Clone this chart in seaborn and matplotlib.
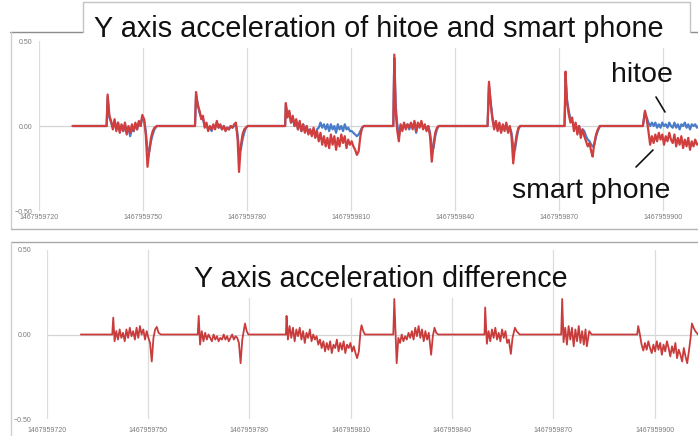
import pandas as pd
import matplotlib.pyplot as plt
import seaborn as sns
from matplotlib.lines import Line2D
from matplotlib.patches import Rectangle
from matplotlib.ticker import StrMethodFormatter

# unix time of the first x tick, all times below are seconds after it
t0 = 1467959720

top_time = [
    9.7,
    19.5, 19.8, 20.3, 20.8, 21.3, 21.8, 22.3, 22.8, 23.3, 23.8,
    24.3, 24.8, 25.3, 25.8, 26.3, 26.8, 27.3, 27.8, 28.3, 28.8,
    29.3, 29.8, 30.3, 30.8, 31.3, 31.8, 32.3, 32.8, 33.3, 34.0,
    45.0, 45.3, 45.8, 46.3, 46.8, 47.3, 47.8, 48.3, 48.8, 49.3,
    49.8, 50.3, 50.8, 51.3, 51.8, 52.3, 52.8, 53.3, 53.8, 54.3,
    54.8, 55.3, 55.8, 56.3, 56.8, 57.3, 57.7, 58.2, 58.7, 59.2,
    59.7, 60.2,
    71.0, 71.2, 71.7, 72.2, 72.7, 73.2, 73.7, 74.2, 74.7, 75.2,
    75.7, 76.2, 76.7, 77.2, 77.7, 78.2, 78.7, 79.2, 79.7, 80.2,
    80.7, 81.2, 81.7, 82.2, 82.7, 83.2, 83.7, 84.2, 84.7, 85.2,
    85.7, 86.2, 86.7, 87.2, 87.7, 88.2, 88.7, 89.2, 89.7, 90.2,
    90.7, 91.2, 91.7, 92.2, 92.7, 93.2, 93.7,
    102.2, 102.5, 102.9, 103.3, 103.8, 104.3, 104.8, 105.3, 105.8, 106.3,
    106.8, 107.3, 107.8, 108.3, 108.8, 109.3, 109.8, 110.3, 110.8, 111.3,
    111.8, 112.3, 112.8, 113.3, 113.8, 114.3, 114.8, 115.3,
    129.4, 129.8, 130.3, 130.8, 131.3, 131.8, 132.3, 132.8, 133.3, 133.8,
    134.3, 134.8, 135.3, 135.8, 136.3, 136.8, 137.3, 137.8, 138.3, 138.8,
    151.6, 151.9, 152.3, 152.8, 153.3, 153.8, 154.3, 154.8, 155.3, 155.8,
    156.3, 156.8, 157.3, 157.8, 158.3, 158.8, 159.3, 159.7, 160.2, 160.7,
    161.2, 161.8,
    174.2, 174.8, 175.3, 175.8, 176.3, 176.8, 177.3, 177.8, 178.3, 178.8,
    179.3, 179.8, 180.3, 180.8, 181.3, 181.8, 182.3, 182.8, 183.3, 183.8,
    184.3, 184.8, 185.3, 185.8, 186.3, 186.8, 187.3, 187.8, 188.3, 188.8,
    189.3, 189.8, 190.3,
]

hitoe = [
    0,
    0, 0.17, 0.05, 0.02, -0.01, 0.03, -0.02, 0.02, -0.03, 0.0,
    -0.03, 0.01, -0.04, -0.01, -0.06, -0.02, -0.03, 0.01, -0.02, 0.02,
    0.0, 0.05, 0.04, -0.03, -0.14, -0.15, -0.09, -0.05, -0.02, 0,
    0, 0.18, 0.13, 0.08, 0.05, 0.04, 0.0, 0.01, -0.02, -0.01,
    -0.03, 0.0, -0.01, 0.02, -0.01, 0.0, -0.02, 0.0, -0.02, -0.01,
    -0.02, 0.0, -0.01, 0.0, 0.01, -0.05, -0.15, -0.14, -0.08, -0.04,
    -0.01, 0,
    0, 0.12, 0.06, 0.08, 0.02, 0.05, 0.0, 0.03, -0.02, 0.02,
    -0.03, 0.01, -0.03, 0.0, -0.04, -0.02, -0.05, -0.02, -0.06, -0.02,
    -0.01, 0.02, -0.01, 0.01, -0.02, 0.01, -0.03, 0.01, -0.02, 0.0,
    -0.04, 0.01, -0.02, 0.0, -0.03, 0.01, -0.02, -0.01, -0.03, -0.03,
    -0.04, -0.05, -0.06, -0.05, -0.03, -0.01, 0,
    0, 0.40, 0.12, 0.02, -0.06, 0.0, -0.02, 0.01, -0.01, 0.01,
    -0.02, 0.01, -0.01, 0.02, -0.04, 0.01, 0.0, 0.02, -0.01, 0.0,
    -0.02, 0.0, -0.04, -0.12, -0.13, -0.06, -0.02, 0,
    0, 0.24, 0.14, 0.05, 0.0, 0.02, -0.02, 0.01, -0.03, 0.0,
    -0.02, 0.01, -0.03, -0.01, -0.04, -0.12, -0.14, -0.07, -0.02, 0,
    0, 0.28, 0.16, 0.09, 0.04, 0.03, 0.0, 0.01, -0.02, 0.0,
    -0.04, -0.02, -0.03, -0.06, -0.08, -0.09, -0.11, -0.12, -0.11, -0.06,
    -0.03, 0,
    0, 0.08, 0.05, 0.02, 0.0, 0.02, 0.0, 0.02, -0.01, 0.01,
    -0.01, 0.02, 0.0, 0.01, -0.01, 0.02, 0.0, -0.01, 0.02, -0.01,
    0.01, -0.02, 0.01, 0.0, 0.02, -0.01, 0.01, -0.02, 0.01, 0.0,
    0.01, -0.01, 0.0,
]

smart_phone = [
    0,
    0, 0.185, 0.06, 0.03, -0.02, 0.04, -0.03, 0.02, -0.04, 0.01,
    -0.03, 0.02, -0.05, 0.0, -0.04, 0.01, -0.03, 0.02, -0.02, 0.03,
    0.0, 0.065, 0.04, -0.05, -0.24, -0.15, -0.07, -0.03, -0.01, 0,
    0, 0.20, 0.12, 0.09, 0.04, 0.06, -0.01, 0.02, -0.03, 0.0,
    -0.02, 0.01, -0.02, 0.03, -0.01, 0.01, -0.02, 0.0, -0.03, -0.01,
    -0.02, 0.0, -0.01, 0.01, 0.02, -0.08, -0.27, -0.12, -0.05, -0.02,
    -0.01, 0,
    0, 0.135, 0.05, 0.09, 0.02, 0.06, 0.0, 0.04, -0.02, 0.03,
    -0.03, 0.01, -0.04, 0.0, -0.05, -0.02, -0.06, -0.01, -0.07, -0.03,
    -0.09, -0.04, -0.11, -0.06, -0.12, -0.07, -0.13, -0.05, -0.11, -0.06,
    -0.14, -0.07, -0.12, -0.05, -0.10, -0.06, -0.13, -0.08, -0.11, -0.09,
    -0.12, -0.14, -0.17, -0.15, -0.06, -0.01, 0,
    0, 0.42, 0.08, -0.02, -0.09, 0.01, -0.03, 0.02, -0.02, 0.01,
    -0.01, 0.02, -0.02, 0.03, -0.03, 0.02, -0.01, 0.03, -0.02, 0.01,
    -0.03, 0.0, -0.06, -0.21, -0.11, -0.04, -0.01, 0,
    0, 0.26, 0.13, 0.04, -0.02, 0.03, -0.03, 0.02, -0.04, 0.01,
    -0.03, 0.02, -0.04, 0.0, -0.06, -0.22, -0.12, -0.05, -0.01, 0,
    0, 0.32, 0.14, 0.07, 0.02, 0.05, -0.03, 0.02, -0.05, 0.0,
    -0.07, -0.02, -0.06, -0.09, -0.12, -0.10, -0.15, -0.18, -0.10, -0.05,
    -0.02, 0,
    0, 0.09, 0.04, -0.03, -0.11, -0.06, -0.10, -0.05, -0.09, -0.04,
    -0.08, -0.05, -0.11, -0.06, -0.09, -0.04, -0.08, -0.10, -0.05, -0.12,
    -0.07, -0.11, -0.06, -0.13, -0.08, -0.12, -0.07, -0.14, -0.09, -0.12,
    -0.08, -0.11, -0.10,
]

diff_time = [
    10.1,
    19.4, 19.7, 20.1, 20.6, 21.1, 21.6, 22.1, 22.6, 23.1, 23.6,
    24.1, 24.6, 25.1, 25.6, 26.1, 26.6, 27.1, 27.6, 28.1, 28.6,
    29.1, 29.6, 30.1, 30.6, 31.1, 31.6, 32.1, 32.6, 33.1, 33.8,
    44.7, 45.0, 45.4, 45.9, 46.4, 46.9, 47.4, 47.9, 48.4, 48.9,
    49.4, 49.9, 50.4, 50.9, 51.4, 51.9, 52.4, 52.9, 53.4, 53.9,
    54.4, 54.9, 55.4, 55.9, 56.4, 56.9, 57.4, 57.9, 58.4, 58.7,
    59.2, 59.7,
    70.8, 71.0, 71.4, 71.9, 72.4, 72.9, 73.4, 73.9, 74.4, 74.9,
    75.4, 75.9, 76.4, 76.9, 77.4, 77.9, 78.4, 78.9, 79.4, 79.9,
    80.4, 80.9, 81.4, 81.9, 82.4, 82.9, 83.4, 83.9, 84.4, 84.9,
    85.4, 85.9, 86.4, 86.9, 87.4, 87.9, 88.4, 88.9, 89.4, 89.9,
    90.4, 90.9, 91.4, 91.9, 92.4, 92.9, 93.2, 93.7, 94.2,
    102.6, 102.9, 103.6, 104.1, 104.6, 105.1, 105.6, 106.1, 106.6, 107.1,
    107.6, 108.1, 108.6, 109.1, 109.6, 110.1, 110.6, 111.1, 111.6, 112.1,
    112.6, 113.1, 113.8, 114.3, 114.8, 115.3, 115.9,
    129.6, 129.8, 130.3, 130.8, 131.3, 131.8, 132.3, 132.8, 133.3, 133.8,
    134.3, 134.8, 135.3, 135.8, 136.3, 136.8, 137.4, 137.9, 138.6, 139.1,
    140.0,
    152.3, 152.6, 153.0, 153.5, 154.0, 154.5, 155.0, 155.5, 156.0, 156.5,
    157.0, 157.5, 158.0, 158.5, 159.0, 159.5, 159.9, 160.3, 160.6, 161.3,
    174.8, 175.1, 175.6, 176.1, 176.6, 177.1, 177.6, 178.1, 178.6, 179.1,
    179.6, 180.1, 180.6, 181.1, 181.6, 182.1, 182.6, 183.1, 183.6, 184.1,
    184.6, 185.1, 185.6, 186.1, 186.6, 187.1, 187.6, 188.1, 188.6, 189.1,
    189.6, 190.1, 190.6, 191.0, 191.5, 192.0, 192.8,
]

difference = [
    0,
    0, 0.10, -0.04, 0.02, -0.03, 0.03, -0.02, 0.01, -0.04, 0.03,
    -0.02, 0.04, -0.01, 0.02, -0.03, 0.04, -0.02, 0.05, 0.0, 0.03,
    -0.03, 0.02, -0.02, -0.05, -0.16, -0.02, 0.03, 0.045, 0.01, 0,
    0, 0.11, -0.06, 0.02, -0.04, 0.01, -0.03, 0.0, -0.02, -0.04,
    0.0, -0.03, -0.01, -0.04, -0.02, -0.03, 0.0, -0.03, -0.01, -0.04,
    -0.02, 0.0, -0.03, -0.01, -0.02, -0.05, -0.17, -0.03, 0.03, 0.065,
    0.02, 0,
    0, 0.11, -0.03, 0.05, -0.02, 0.04, -0.04, 0.03, -0.01, 0.04,
    -0.03, 0.02, -0.05, 0.01, -0.02, 0.03, -0.04, 0.0, -0.03, -0.01,
    -0.06, -0.03, -0.08, -0.04, -0.10, -0.05, -0.09, -0.04, -0.11, -0.06,
    -0.08, -0.03, -0.10, -0.05, -0.09, -0.04, -0.11, -0.06, -0.08, -0.05,
    -0.10, -0.07, -0.11, -0.14, -0.10, 0.02, 0.055, 0.02, 0,
    0, 0.21, -0.17, -0.02, -0.05, 0.0, -0.04, -0.01, -0.03, 0.01,
    -0.02, 0.02, -0.03, 0.04, -0.01, 0.05, -0.02, 0.03, -0.04, 0.02,
    -0.03, 0.01, -0.12, -0.01, 0.04, 0.01, 0,
    0, 0.16, -0.055, 0.02, -0.04, 0.03, -0.02, 0.04, -0.03, 0.01,
    -0.04, 0.03, -0.02, 0.02, -0.05, -0.03, -0.115, -0.02, 0.04, 0.02,
    0,
    0, 0.21, -0.045, 0.04, -0.06, 0.05, -0.03, 0.04, -0.07, 0.03,
    -0.04, 0.05, -0.05, 0.02, -0.06, 0.03, -0.07, -0.02, 0.02, 0,
    0, 0.05, 0.0, -0.06, -0.095, -0.05, -0.09, -0.04, -0.08, -0.11,
    -0.06, -0.10, -0.04, -0.09, -0.05, -0.12, -0.06, -0.10, -0.04, -0.08,
    -0.13, -0.07, -0.11, -0.05, -0.14, -0.09, -0.12, -0.16, -0.08, -0.13,
    -0.17, -0.10, -0.02, 0.065, 0.04, 0.02, 0,
]

x_ticks = [0, 30, 60, 90, 120, 150, 180]
y_ticks = [-0.5, 0.0, 0.5]

top_df = pd.DataFrame({"time": top_time, "hitoe": hitoe, "smart phone": smart_phone})
top_df["timestamp"] = t0 + top_df["time"]
top_long = top_df.melt(id_vars=["timestamp"], value_vars=["hitoe", "smart phone"],
                       var_name="sensor", value_name="accel")
diff_df = pd.DataFrame({"timestamp": [t0 + t for t in diff_time], "accel": difference})

sns.set_style("white")
plt.rcParams["font.family"] = ["Liberation Sans", "DejaVu Sans"]

W, H = 698, 436


def fx(px):
    return px / W


def fy(py):
    return 1 - py / H


fig = plt.figure(figsize=(W / 100, H / 100), dpi=100)
fig.patch.set_facecolor("white")

ax1 = fig.add_axes([fx(39), fy(211), (W - 39) / W, 170 / H])
ax2 = fig.add_axes([fx(46.7), fy(419), (W - 46.7) / W, 169 / H])

sns.lineplot(data=top_long, x="timestamp", y="accel", hue="sensor",
             hue_order=["hitoe", "smart phone"],
             palette={"hitoe": "#4a7cc9", "smart phone": "#d03e3e"},
             estimator=None, sort=False, legend=False, lw=1.6, ax=ax1)
sns.lineplot(data=diff_df, x="timestamp", y="accel", color="#c93c3c",
             estimator=None, sort=False, legend=False, lw=1.3, ax=ax2)

for ax, right, xpad, ypad in [(ax1, 190.1, 2.5, 5), (ax2, 192.8, 6, 11)]:
    ax.set_xlim(t0, t0 + right)
    ax.set_ylim(-0.5, 0.5)
    ax.set_xticks([t0 + t for t in x_ticks])
    ax.set_yticks(y_ticks)
    ax.xaxis.set_major_formatter(StrMethodFormatter("{x:.0f}"))
    ax.yaxis.set_major_formatter(StrMethodFormatter("{x:.2f}"))
    ax.tick_params(axis="x", labelsize=5, colors="#7a7a7a", length=0, pad=xpad)
    ax.tick_params(axis="y", labelsize=5, colors="#7a7a7a", length=0, pad=ypad)
    ax.set_xlabel("")
    ax.set_ylabel("")
    ax.grid(axis="x", color="#dcdcdc", lw=0.9)
    ax.grid(axis="y", visible=False)
    ax.axhline(0, color="#d4d4d4", lw=0.9, zorder=0)
    ax.set_axisbelow(True)
    for s in ax.spines.values():
        s.set_visible(False)
    ax.patch.set_alpha(0)


def seg(x0, y0, x1, y1, color, lw=1.0):
    fig.add_artist(Line2D([fx(x0), fx(x1)], [fy(y0), fy(y1)],
                          transform=fig.transFigure, color=color, lw=lw))


# chart frames
seg(10, 32, 83, 32, "#8c8c8c")
seg(690, 32, 698, 32, "#8c8c8c")
seg(11, 32, 11, 229, "#cfcfcf")
seg(11, 229, 698, 229, "#b4b4b4")
seg(11, 242, 698, 242, "#a8a8a8")
seg(11, 242, 11, 436, "#cfcfcf")

# title box of top chart
fig.add_artist(Rectangle((fx(83), fy(48)), (690 - 83) / W, 46 / H,
                         transform=fig.transFigure, facecolor="white",
                         edgecolor="none", zorder=1))
seg(83, 2, 690, 2, "#c4c4c4")
seg(83, 2, 83, 32, "#c4c4c4")
seg(690, 2, 690, 32, "#c4c4c4")

# white area behind the lower title
fig.add_artist(Rectangle((fx(185), fy(298)), (552 - 185) / W, 48 / H,
                         transform=fig.transFigure, facecolor="white",
                         edgecolor="none", zorder=1))

fig.text(fx(94), fy(37), "Y axis acceleration of hitoe and smart phone",
         fontsize=20.75, color="#111111", va="baseline", ha="left", zorder=3)
fig.text(fx(194), fy(287), "Y axis acceleration difference",
         fontsize=20.6, color="#111111", va="baseline", ha="left", zorder=3)
fig.text(fx(611), fy(82), "hitoe", fontsize=20.5, color="#111111",
         va="baseline", ha="left", zorder=3)
fig.text(fx(512), fy(198), "smart phone", fontsize=20.5, color="#111111",
         va="baseline", ha="left", zorder=3)
seg(656, 97, 665, 112, "#111111", lw=1.2)
seg(653, 150, 636, 167, "#111111", lw=1.2)

fig.savefig("out.png", dpi=100)
